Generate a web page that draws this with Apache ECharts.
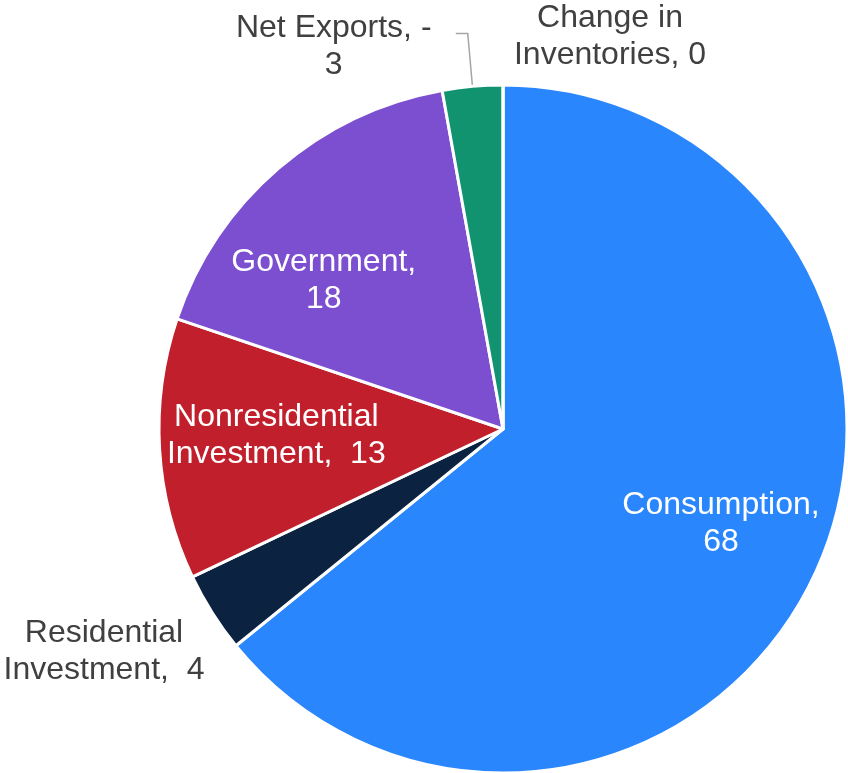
<!DOCTYPE html>
<html>
<head>
<meta charset="utf-8">
<title>GDP components</title>
<script src="https://cdn.jsdelivr.net/npm/echarts@6/dist/echarts.min.js"></script>
<style>
  html, body { margin: 0; padding: 0; background: #ffffff; }
  #chart { width: 848px; height: 773px; }
</style>
</head>
<body>
<div id="chart"></div>
<script>
// Share of GDP by expenditure component (percent)
const categories = [
  'Consumption',
  'Residential\nInvestment',
  'Nonresidential\nInvestment',
  'Government',
  'Net Exports',
  'Change in\nInventories'
];
const values = [68, 4, 13, 18, -3, 0];
const colors = ['#2a86fc', '#0b2340', '#c01f2b', '#7b4fcf', '#11936f', '#a5a5a5'];

const FONT = '"Liberation Sans", Arial, sans-serif';

// Label text: "<name>, <value>" wrapped the way the chart shows it
function labelText(name, value) {
  if (name.indexOf('\n') >= 0) {
    const sep = name.endsWith('Investment') ? ',  ' : ', ';
    return name + sep + value;
  }
  const sign = value < 0 ? '-' : '';
  return (name + ', ' + sign).trim() + '\n' + Math.abs(value);
}

// Placement of the labels (offsets from the default inside spot, or absolute centres)
const insideShift = {
  'Consumption': [60, 19],
  'Government': [-65, -16],
  'Nonresidential\nInvestment': [-52, -4]
};
const outsideSpot = {
  'Residential\nInvestment': [104, 652],
  'Change in\nInventories': [610, 37]
};

const data = categories.map((name, i) => {
  const item = {
    name: name,
    value: Math.abs(values[i]),
    rawValue: values[i],
    itemStyle: { color: colors[i] }
  };
  if (name === 'Net Exports') {
    const sign = values[i] < 0 ? '-' : '';
    item.label = {
      position: 'outside',
      color: '#404040',
      distanceToLabelLine: 22,
      padding: [26, 0, 0, 0],
      formatter: '{c|' + name + ', ' + sign + '}\n{c|' + Math.abs(values[i]) + '}',
      rich: { c: { width: 200, align: 'center', fontSize: 32, fontFamily: FONT, lineHeight: 37, color: '#404040' } }
    };
    item.labelLine = { show: true, length: 53, length2: 12, lineStyle: { color: '#a6a6a6', width: 1.5 } };
  } else if (outsideSpot[name]) {
    item.label = { position: 'outside', color: '#404040' };
    item.labelLine = { show: false };
  }
  return item;
});

const chart = echarts.init(document.getElementById('chart'), null, { renderer: 'canvas' });

chart.setOption({
  backgroundColor: '#ffffff',
  animation: false,
  series: [{
    type: 'pie',
    center: [503, 429],
    radius: 344,
    startAngle: 90,
    clockwise: true,
    avoidLabelOverlap: false,
    itemStyle: { borderColor: '#ffffff', borderWidth: 3 },
    label: {
      show: true,
      position: 'inside',
      color: '#ffffff',
      fontSize: 32,
      lineHeight: 37,
      fontFamily: FONT,
      formatter: p => labelText(p.name, p.data.rawValue)
    },
    labelLine: { show: false },
    labelLayout: function (params) {
      const name = categories[params.dataIndex];
      if (insideShift[name]) {
        return { dx: insideShift[name][0], dy: insideShift[name][1] };
      }
      if (outsideSpot[name]) {
        return { x: outsideSpot[name][0], y: outsideSpot[name][1], align: 'center', verticalAlign: 'middle' };
      }
      return {};
    },
    emphasis: { disabled: true },
    data: data
  }]
});
</script>
</body>
</html>
